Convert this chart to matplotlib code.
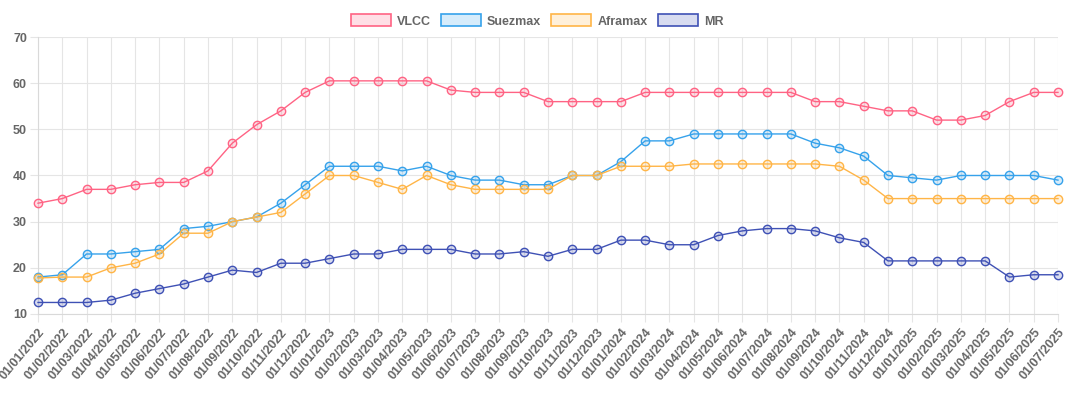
import matplotlib
matplotlib.use("Agg")
import matplotlib.pyplot as plt
from matplotlib.patches import Patch
from matplotlib.colors import to_rgba

dates = ["01/01/2022", "01/02/2022", "01/03/2022", "01/04/2022", "01/05/2022", "01/06/2022",
         "01/07/2022", "01/08/2022", "01/09/2022", "01/10/2022", "01/11/2022", "01/12/2022",
         "01/01/2023", "01/02/2023", "01/03/2023", "01/04/2023", "01/05/2023", "01/06/2023",
         "01/07/2023", "01/08/2023", "01/09/2023", "01/10/2023", "01/11/2023", "01/12/2023",
         "01/01/2024", "01/02/2024", "01/03/2024", "01/04/2024", "01/05/2024", "01/06/2024",
         "01/07/2024", "01/08/2024", "01/09/2024", "01/10/2024", "01/11/2024", "01/12/2024",
         "01/01/2025", "01/02/2025", "01/03/2025", "01/04/2025", "01/05/2025", "01/06/2025",
         "01/07/2025"]

vlcc = [34, 35, 37, 37, 38, 38.5, 38.5, 41, 47, 51, 54, 58, 60.5, 60.5, 60.5, 60.5, 60.5, 58.5,
        58, 58, 58, 56, 56, 56, 56, 58, 58, 58, 58, 58, 58, 58, 56, 56, 55, 54, 54, 52, 52, 53,
        56, 58, 58]
suezmax = [18, 18.5, 23, 23, 23.5, 24, 28.5, 29, 30, 31, 34, 38, 42, 42, 42, 41, 42, 40, 39, 39,
           38, 38, 40, 40, 43, 47.5, 47.5, 49, 49, 49, 49, 49, 47, 46, 44.2, 40, 39.5, 39, 40, 40,
           40, 40, 39]
aframax = [17.8, 18, 18, 20, 21, 23, 27.5, 27.5, 30, 31, 32, 36, 40, 40, 38.5, 37, 40, 38, 37, 37,
           37, 37, 40, 40, 42, 42, 42, 42.5, 42.5, 42.5, 42.5, 42.5, 42.5, 42, 39, 35, 35, 35, 35,
           35, 35, 35, 35]
mr = [12.5, 12.5, 12.5, 13, 14.5, 15.5, 16.5, 18, 19.5, 19, 21, 21, 22, 23, 23, 24, 24, 24, 23,
      23, 23.5, 22.5, 24, 24, 26, 26, 25, 25, 27, 28, 28.5, 28.5, 28, 26.5, 25.5, 21.5, 21.5,
      21.5, 21.5, 21.5, 18, 18.5, 18.5]

series_names = ["VLCC", "Suezmax", "Aframax", "MR"]
series_colors = ["#FF6384", "#36A2EB", "#FFB547", "#3F51B5"]
series_values = [vlcc, suezmax, aframax, mr]

W, H = 1074, 398
fig = plt.figure(figsize=(W / 100, H / 100), dpi=100)
ax = fig.add_axes([38 / W, 1 - 314 / H, (1058 - 38) / W, (314 - 37) / H])

grid_c = "#e5e5e5"
text_c = "#666666"
font = "Liberation Sans"

x = list(range(len(dates)))
for name, col, vals in zip(series_names, series_colors, series_values):
    ax.plot(x, vals, color=col, lw=1.0, marker="o", markersize=6,
            markerfacecolor=to_rgba(col, 0.2), markeredgecolor=col, markeredgewidth=1.0,
            label=name, zorder=3, clip_on=False)

ax.set_xlim(0, len(dates) - 1)
ax.set_ylim(10, 70)
ax.set_yticks([10, 20, 30, 40, 50, 60, 70])
ax.set_xticks(x)
ax.set_xticklabels(dates, rotation=50, ha="right", rotation_mode="anchor",
                   fontsize=9, fontweight="bold", color=text_c, family=font)
for lbl in ax.get_yticklabels():
    lbl.set_fontsize(9)
    lbl.set_fontweight("bold")
    lbl.set_color(text_c)
    lbl.set_family(font)

ax.grid(True, color=grid_c, lw=0.8, zorder=0)
ax.set_axisbelow(True)
ax.tick_params(axis="both", length=6, width=0.8, color=grid_c, pad=2)
ax.tick_params(axis="x", pad=3)
for side in ["top", "right"]:
    ax.spines[side].set_visible(False)
for side in ["left", "bottom"]:
    ax.spines[side].set_color("#d9d9d9")
    ax.spines[side].set_linewidth(0.8)

handles = [Patch(facecolor=to_rgba(c, 0.2), edgecolor=c, lw=1.2, label=n)
           for n, c in zip(series_names, series_colors)]
leg = fig.legend(handles=handles, loc="center", bbox_to_anchor=(0.5, 1 - 21 / H), ncol=4,
                 frameon=False, handlelength=3.2, handleheight=1.05, handletextpad=0.5,
                 columnspacing=0.8, prop={"family": font, "weight": "bold", "size": 9})
for t in leg.get_texts():
    t.set_color(text_c)

fig.savefig("out.png", dpi=100)
